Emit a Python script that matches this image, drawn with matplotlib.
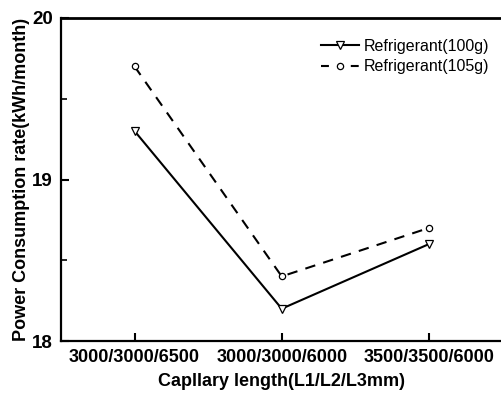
import matplotlib
matplotlib.use("Agg")
import matplotlib.pyplot as plt
from matplotlib.ticker import MultipleLocator
from matplotlib.lines import Line2D

categories = ["3000/3000/6500", "3000/3000/6000", "3500/3500/6000"]
refrig_100g = [19.3, 18.2, 18.6]
refrig_105g = [19.7, 18.4, 18.7]
labels = ['Refrigerant(100g)', 'Refrigerant(105g)']

plt.rcParams['font.family'] = ['Liberation Sans', 'DejaVu Sans']

fig = plt.figure(figsize=(5.01, 3.93), dpi=100)
ax = fig.add_axes([61/501, 1-341/393, 1-61/501, (341-18)/393])

x = list(range(1, len(categories)+1))
ax.plot(x, refrig_100g, color='black', linestyle='-', linewidth=1.5,
        marker='v', markersize=6, markerfacecolor='white', markeredgecolor='black',
        markeredgewidth=0.9)
ax.plot(x, refrig_105g, color='black', linestyle=(0, (5, 4)), linewidth=1.5,
        marker='o', markersize=4.5, markerfacecolor='white', markeredgecolor='black',
        markeredgewidth=0.9)

ax.set_xlim(0.5, 3.49)
ax.set_ylim(18, 20)
ax.set_xticks(x)
ax.set_xticklabels(categories, fontsize=13, fontweight='bold')
ax.set_yticks([18, 19, 20])
ax.set_yticklabels(['18', '19', '20'], fontsize=13.5, fontweight='bold')
ax.yaxis.set_minor_locator(MultipleLocator(0.5))
ax.tick_params(axis='both', which='major', direction='in', length=6, width=1.5, pad=6)
ax.tick_params(axis='y', which='minor', direction='in', length=4, width=1.2)
ax.tick_params(top=False, right=False)

for s in ['left', 'bottom']:
    ax.spines[s].set_linewidth(1.6)
ax.spines['top'].set_linewidth(2.0)
ax.spines['right'].set_visible(False)

ax.set_xlabel('Capllary length(L1/L2/L3mm)', fontsize=13, fontweight='bold', labelpad=5)
ax.set_ylabel('Power Consumption rate(kWh/month)', fontsize=13, fontweight='bold', labelpad=1)

h1 = Line2D([], [], color='black', linestyle='-', linewidth=1.5, marker='v', markersize=6,
            markerfacecolor='white', markeredgecolor='black', markeredgewidth=0.9)
h2 = Line2D([], [], color='black', linestyle=(0, (3.8, 10.5)), linewidth=1.5, marker='o',
            markersize=4.5, markerfacecolor='white', markeredgecolor='black', markeredgewidth=0.9)
leg = ax.legend([h1, h2], labels, loc='upper right', bbox_to_anchor=(0.995, 0.965), frameon=False,
                fontsize=11.5, handlelength=2.38, handletextpad=0.3, labelspacing=0.35,
                borderaxespad=0.2)

fig.savefig('out.png', dpi=100)
